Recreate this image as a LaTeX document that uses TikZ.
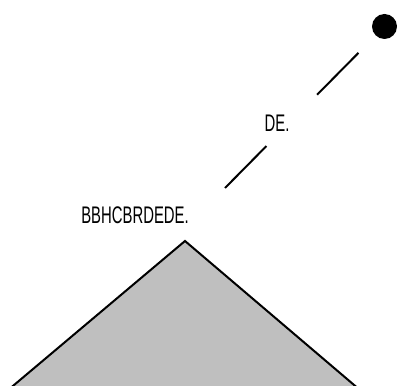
\documentclass[tikz,border=0pt]{standalone}
\usepackage{fontspec}
\setmainfont{Liberation Sans}
\usetikzlibrary{positioning}

\begin{document}
\begin{tikzpicture}[
  x=1pt, y=1pt,
  font=\fontsize{24}{24}\selectfont,
  tag/.style={inner sep=0pt, anchor=center},
  ball/.style={circle, fill=black, inner sep=0pt, minimum size=25pt},
  link/.style={line width=2pt, dash pattern=on 59pt off 72pt},
  hill/.style={draw=black, line width=2pt, fill=black!25, line join=miter}
]
\useasboundingbox (0,0) rectangle (397,386);
\clip (0,0) rectangle (397,386);

\coordinate (apex) at (185,145);
\draw[hill] (1,-10) -- (apex) -- (367,-10);

\node[tag] (peak) at (135,171) {\scalebox{0.62}[1]{BBHCBRDEDE.}};
\node[ball] (dot) at (384.5,359.5) {};
\coordinate (start) at (225,198);
\draw[link] (start) -- (dot);
\node[tag] (mid) at (277,263) {\scalebox{0.62}[1]{DE.}};

\end{tikzpicture}
\end{document}
